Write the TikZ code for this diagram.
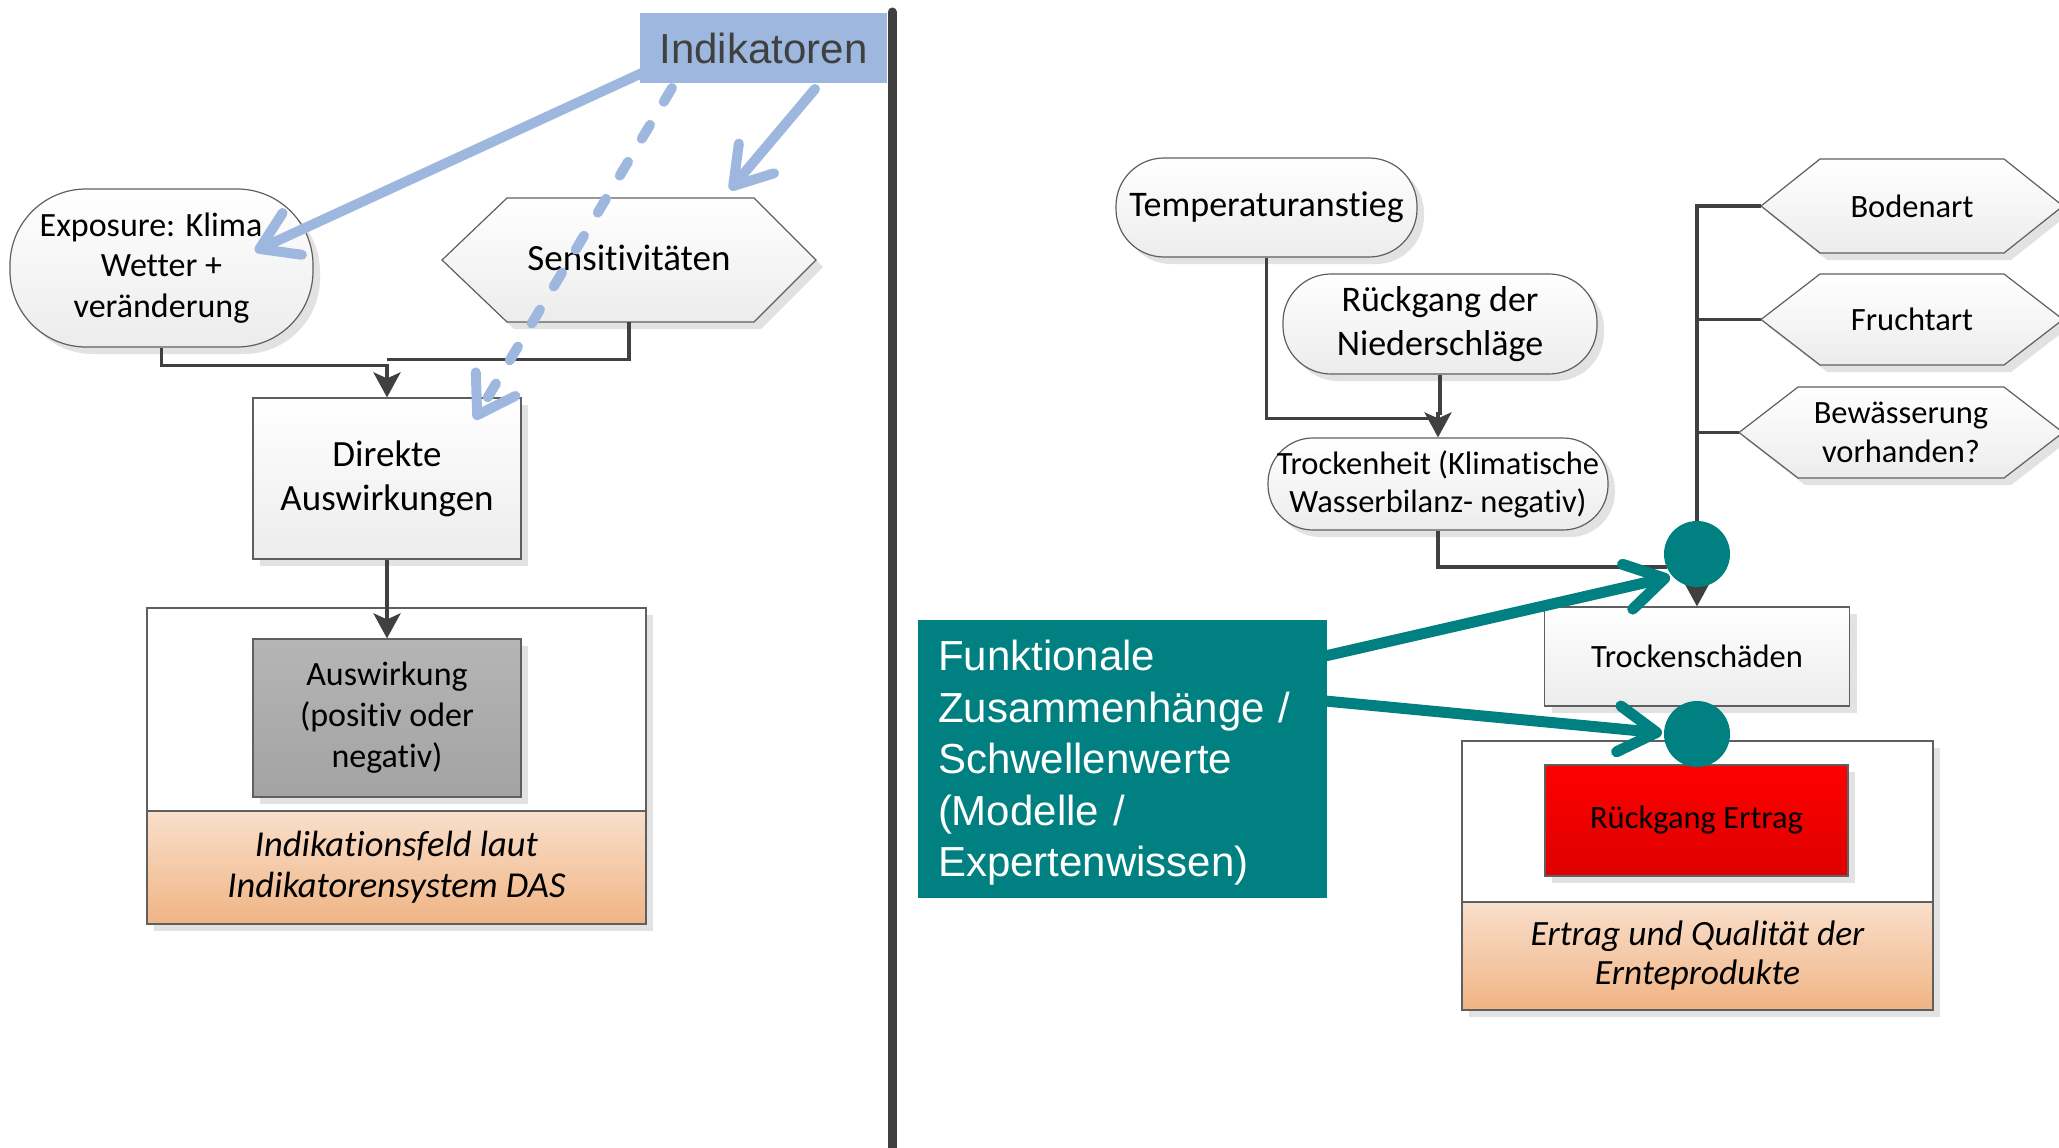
\documentclass[tikz,border=0pt]{standalone}
\usepackage{fontspec}
\setmainfont{Carlito}[Ligatures=NoCommon]
\newfontfamily\arialfont{Liberation Sans}
\usetikzlibrary{arrows.meta,shadows,calc}
\newcommand\myfs[2]{\fontsize{#1pt}{#2pt}\selectfont}
\definecolor{linegray}{RGB}{64,64,64}
\definecolor{bordergray}{RGB}{95,95,95}
\definecolor{indblue}{RGB}{158,183,222}
\definecolor{tealc}{RGB}{0,128,128}
\definecolor{shadowgray}{RGB}{226,226,226}
\definecolor{nodebot}{RGB}{236,236,236}
\definecolor{peachtop}{RGB}{249,223,203}
\definecolor{peachbot}{RGB}{240,180,132}
\definecolor{graytop}{RGB}{181,181,181}
\definecolor{graybot}{RGB}{163,163,163}
\definecolor{redtop}{RGB}{255,0,0}
\definecolor{redbot}{RGB}{222,0,0}
\begin{document}
\begin{tikzpicture}[x=1pt,y=-1pt,
  shad/.style={drop shadow={shadow xshift=7pt,shadow yshift=-7pt,fill=shadowgray,opacity=1}},
  lightbox/.style={draw=bordergray,line width=1.2pt,top color=white,bottom color=nodebot,shad,inner sep=0pt,align=center},
  hexshape/.style={draw=bordergray,line width=1.2pt,top color=white,bottom color=nodebot,shad},
  hexlabel/.style={inner sep=0pt,align=center},
  container/.style={draw=bordergray,line width=1.2pt,fill=white,shad,inner sep=0pt},
  band/.style={draw=bordergray,line width=1.2pt,top color=peachtop,bottom color=peachbot,inner sep=0pt,align=center},
  graybox/.style={draw=bordergray,line width=1.2pt,top color=graytop,bottom color=graybot,shad,inner sep=0pt,align=center},
  redbox/.style={draw=bordergray,line width=1.2pt,top color=redtop,bottom color=redbot,shad,inner sep=0pt,align=center},
  tealdot/.style={circle,fill=tealc,minimum size=66pt,inner sep=0pt},
  conn/.style={draw=linegray,line width=3.8pt},
  darkarr/.style={-{Stealth[length=25pt,width=27pt,inset=6pt]}},
  bluearr/.style={draw=indblue,line width=10pt,line cap=round,-{Straight Barb[round,length=36pt,width=46pt]}},
  tealarr/.style={draw=tealc,line width=11pt,-{Straight Barb[round,length=38pt,width=46pt]}},
]
\useasboundingbox (0,0) rectangle (2059,1148);
\fill[white] (0,0) rectangle (2059,1148);

% ---------------- left part ----------------
\node[container,minimum width=499pt,minimum height=316pt] (feldL) at (396.5,766) {};
\node[band,minimum width=499pt,minimum height=113pt,font=\myfs{36.5}{41}\itshape] (bandL) at (396.5,867.5) {Indikationsfeld laut\\Indikatorensystem DAS};
\node[graybox,minimum width=268pt,minimum height=158pt,font=\myfs{34}{41}] (ausw) at (387,718) {Auswirkung\\(positiv oder\\negativ)};

\node[lightbox,rounded corners=76pt,minimum width=303pt,minimum height=158pt,font=\myfs{34}{40.5}] (expo) at (161.5,268) {Exposure: Klima\hspace*{21pt}\\Wetter +\\veränderung};

\path[hexshape] (442,260) -- (507,198) -- (754,198) -- (816,260) -- (754,322) -- (507,322) -- cycle;
\node[hexlabel,minimum width=374pt,minimum height=124pt,font=\myfs{37}{44}] (sens) at (629,258) {Sensitivitäten};

\node[lightbox,minimum width=268pt,minimum height=161pt,font=\myfs{37}{44}] (direkte) at (387,478.5) {Direkte\\Auswirkungen};

\draw[conn,darkarr] (expo.south) |- ($(direkte.north)+(0,-32)$) -- (direkte.north);
\draw[conn] ($(sens.south)+(0,2)$) |- ($(direkte.north)+(0,-38)$);
\draw[conn,darkarr] (direkte.south) -- (ausw.north);

% blue indicator arrows
\draw[bluearr] (642,73) -- ($(expo.center)+(93.5,-17)$);
\draw[bluearr,dash pattern=on 16pt off 27pt] (672,88) -- ($(direkte.north east)+(-47,22)$);
\draw[bluearr] (815,89) -- ($(sens.north)+(101,-6)$);

\node[fill=indblue,minimum width=247pt,minimum height=70pt,inner sep=0pt,text=linegray,font=\arialfont\myfs{42}{50}] (indik) at (763.5,48) {Indikatoren};

% separator
\draw[draw=linegray,line width=9pt,line cap=round] (892,12) -- (892,1170);

% ---------------- right part ----------------
\node[container,minimum width=471pt,minimum height=269pt] (feldR) at (1697.5,875.5) {};
\node[band,minimum width=471pt,minimum height=108pt,font=\myfs{35.5}{39}\itshape] (bandR) at (1697.5,956) {Ertrag und Qualität der\\Ernteprodukte};
\node[redbox,minimum width=303pt,minimum height=111pt,font=\myfs{32.5}{39}] (rueck) at (1696.5,820.5) {Rückgang Ertrag};

\node[lightbox,rounded corners=48pt,minimum width=301pt,minimum height=99pt,font=\myfs{36}{43}] (temp) at (1266.5,207.5) {Temperaturanstieg};
\node[lightbox,rounded corners=48pt,minimum width=314pt,minimum height=100pt,font=\myfs{36}{44}] (nied) at (1440,324) {Rückgang der\\Niederschläge};
\node[lightbox,rounded corners=45pt,minimum width=340pt,minimum height=92pt,font=\myfs{32.5}{38}] (trock) at (1438,484) {Trockenheit (Klimatische\\Wasserbilanz- negativ)};

\path[hexshape] (1761,206) -- (1820,159) -- (2004,159) -- (2063,206) -- (2004,253) -- (1820,253) -- cycle;
\node[hexlabel,minimum width=302pt,minimum height=94pt,font=\myfs{32.5}{39}] (bod) at (1912,206) {Bodenart};
\path[hexshape] (1761,319.5) -- (1820,274) -- (2004,274) -- (2063,319.5) -- (2004,365) -- (1820,365) -- cycle;
\node[hexlabel,minimum width=302pt,minimum height=91pt,font=\myfs{32.5}{39}] (fru) at (1912,319.5) {Fruchtart};
\path[hexshape] (1739,432.5) -- (1798,387) -- (2004,387) -- (2063,432.5) -- (2004,478) -- (1798,478) -- cycle;
\node[hexlabel,minimum width=324pt,minimum height=91pt,font=\myfs{32.5}{39}] (bew) at (1901,432.5) {Bewässerung\\vorhanden?};

\node[lightbox,minimum width=305pt,minimum height=99pt,font=\myfs{32.5}{39}] (tsch) at (1697,656.5) {Trockenschäden};

\coordinate (c1pos) at (1697,554);
\draw[conn] (temp.south) |- ($(trock.north)+(0,-19)$);
\draw[conn,darkarr] (nied.south) |- ($(trock.north)+(0,-24)$) -- (trock.north);
\draw[conn] (trock.south) |- ($(c1pos)+(-30,13)$);
\draw[conn] (c1pos) |- (bod.west);
\draw[conn] (c1pos |- fru.west) -- (fru.west);
\draw[conn] (c1pos |- bew.west) -- (bew.west);
\draw[conn,darkarr] (c1pos) -- (tsch.north);

\node[tealdot] (c1) at (c1pos) {};
\node[tealdot] (c2) at (1697,734) {};

\node[fill=tealc,minimum width=409pt,minimum height=278pt,inner sep=0pt] (teal) at (1122.5,759) {};
\node[anchor=west,inner sep=0pt,text width=369pt,align=left,text=white,font=\arialfont\myfs{42}{51.5}] (tealtext) at ($(teal.west)+(20,4)$) {Funktionale\\Zusammenhänge /\\Schwellenwerte\\(Modelle /\\Expertenwissen)};

\draw[tealarr] ($(teal.east)+(-2,-103)$) -- ($(c1.center)+(-27,23)$);
\draw[tealarr] ($(teal.east)+(-2,-58)$) -- ($(c2.center)+(-35,-1)$);
\end{tikzpicture}
\end{document}
